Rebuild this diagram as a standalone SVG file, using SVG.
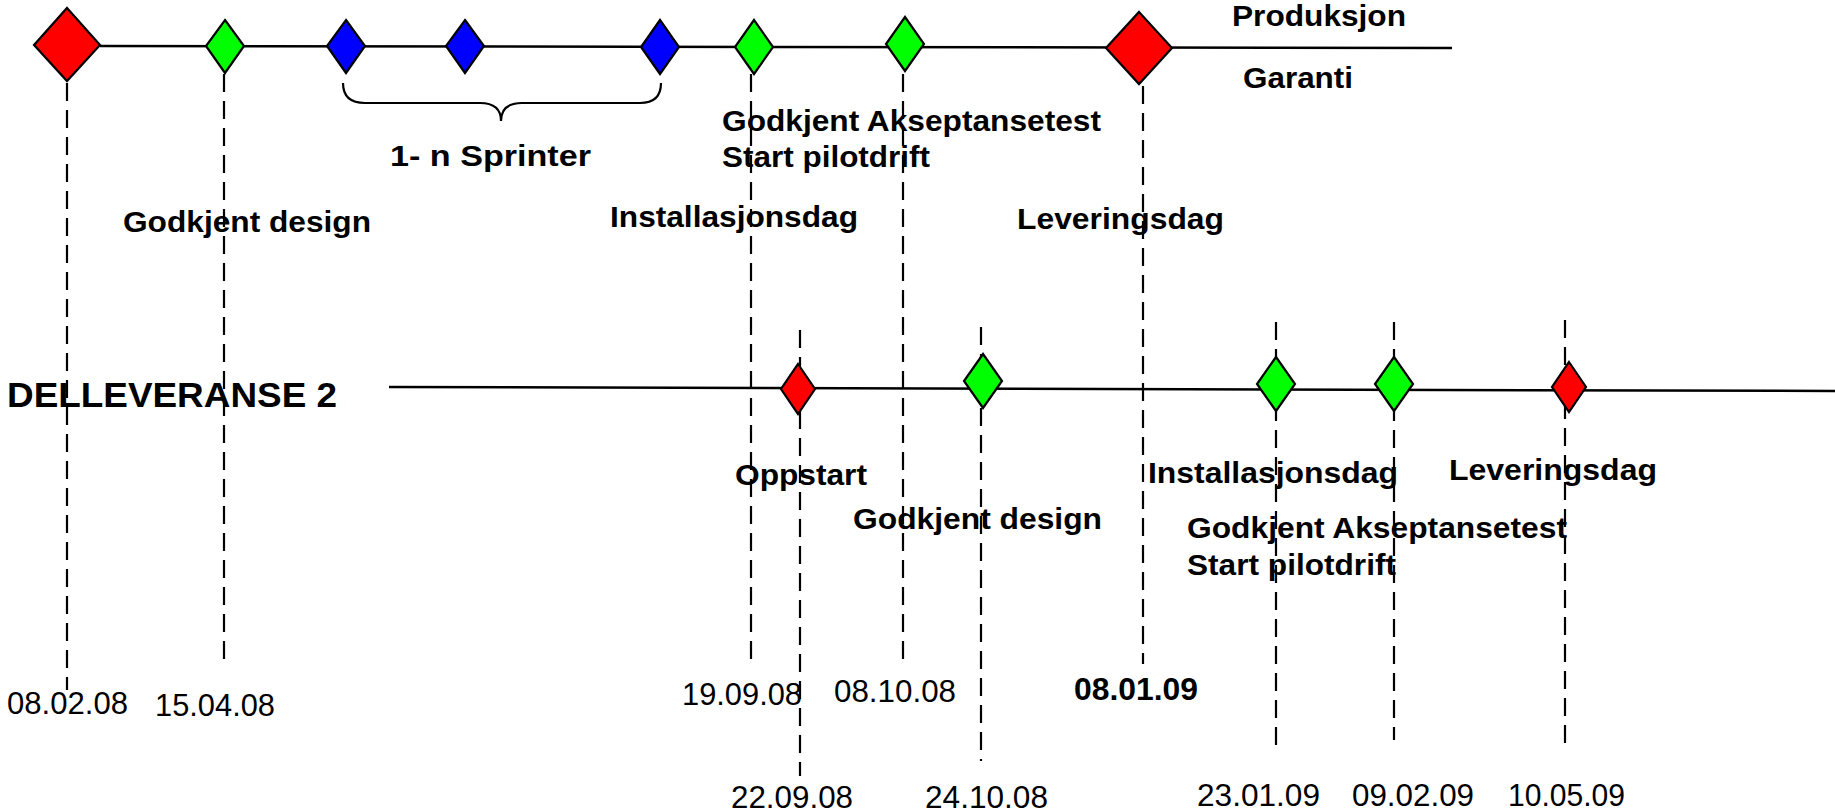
<svg xmlns="http://www.w3.org/2000/svg" width="1835" height="812" viewBox="0 0 1835 812">
<style>
.tl{stroke:#000;stroke-width:2.5;fill:none}
.dash{stroke:#000;stroke-width:2.2;stroke-dasharray:18 9;fill:none}
.brace{stroke:#000;stroke-width:2.2;fill:none}
.dm{stroke:#000;stroke-width:2.2}
.red{fill:#FF0000}.grn{fill:#00FF00}.blu{fill:#0000FF}
.lb{font-family:"Liberation Sans",Arial,sans-serif;font-weight:bold;font-size:29px;fill:#000}
.big{font-family:"Liberation Sans",Arial,sans-serif;font-weight:bold;font-size:35px;fill:#000}
.dt{font-family:"Liberation Sans",Arial,sans-serif;font-size:32px;fill:#000}
.dtb{font-family:"Liberation Sans",Arial,sans-serif;font-weight:bold;font-size:31px;fill:#000}
</style>
<rect width="1835" height="812" fill="#fff"/>
<g id="connectors">
<line class="tl" x1="100" y1="46" x2="1452" y2="48"/>
<line class="tl" x1="389" y1="387" x2="1835" y2="391"/>
<line class="dash" x1="67" y1="83" x2="67" y2="690"/>
<line class="dash" x1="224" y1="74" x2="224" y2="667"/>
<line class="dash" x1="751" y1="74" x2="751" y2="667"/>
<line class="dash" x1="903" y1="74" x2="903" y2="664"/>
<line class="dash" x1="1143" y1="86" x2="1143" y2="664"/>
<line class="dash" x1="800" y1="330" x2="800" y2="776"/>
<line class="dash" x1="981" y1="327" x2="981" y2="761"/>
<line class="dash" x1="1276" y1="322" x2="1276" y2="753"/>
<line class="dash" x1="1394" y1="322" x2="1394" y2="740"/>
<line class="dash" x1="1565" y1="320" x2="1565" y2="747"/>
<path class="brace" d="M343,83 Q343,103 365,103 L480,103 Q501,103 501,121 Q501,103 522,103 L640,103 Q661,103 661,83"/>
</g>
<g id="n-start"><polygon class="dm red" points="67,8 100,45 67,81 34,45"/></g>
<g id="n-design"><polygon class="dm grn" points="225,20 244,46 225,73 206,46"/></g>
<g id="n-sprint1"><polygon class="dm blu" points="346,20 365,46 346,73 327,46"/></g>
<g id="n-sprint2"><polygon class="dm blu" points="465,20 484,46 465,73 446,46"/></g>
<g id="n-sprint3"><polygon class="dm blu" points="660,20 679,47 660,74 641,47"/></g>
<g id="n-install"><polygon class="dm grn" points="754,20 773,47 754,74 735,47"/></g>
<g id="n-accept"><polygon class="dm grn" points="905,17 924,44 905,71 886,44"/></g>
<g id="n-deliver"><polygon class="dm red" points="1139,12 1172,48 1139,84 1106,48"/></g>
<g id="d2-start"><polygon class="dm red" points="798,364 815,389 798,414 781,389"/></g>
<g id="d2-design"><polygon class="dm grn" points="983,354 1002,381 983,408 964,381"/></g>
<g id="d2-install"><polygon class="dm grn" points="1276,357 1295,384 1276,411 1257,384"/></g>
<g id="d2-accept"><polygon class="dm grn" points="1394,357 1413,384 1394,411 1375,384"/></g>
<g id="d2-deliver"><polygon class="dm red" points="1569,362 1586,387 1569,412 1552,387"/></g>
<g id="labels">
<text class="lb" x="1232" y="26" textLength="174" lengthAdjust="spacingAndGlyphs">Produksjon</text>
<text class="lb" x="1243" y="88" textLength="110" lengthAdjust="spacingAndGlyphs">Garanti</text>
<text class="lb" x="390" y="166" textLength="201" lengthAdjust="spacingAndGlyphs">1- n Sprinter</text>
<text class="lb" x="123" y="232" textLength="248" lengthAdjust="spacingAndGlyphs">Godkjent design</text>
<text class="lb" x="722" y="131" textLength="379" lengthAdjust="spacingAndGlyphs">Godkjent Akseptansetest</text>
<text class="lb" x="722" y="167" textLength="208" lengthAdjust="spacingAndGlyphs">Start pilotdrift</text>
<text class="lb" x="610" y="227" textLength="248" lengthAdjust="spacingAndGlyphs">Installasjonsdag</text>
<text class="lb" x="1017" y="229" textLength="207" lengthAdjust="spacingAndGlyphs">Leveringsdag</text>
<text class="big" x="7" y="407" textLength="330" lengthAdjust="spacingAndGlyphs">DELLEVERANSE 2</text>
<text class="lb" x="735" y="485" textLength="132" lengthAdjust="spacingAndGlyphs">Oppstart</text>
<text class="lb" x="853" y="529" textLength="249" lengthAdjust="spacingAndGlyphs">Godkjent design</text>
<text class="lb" x="1148" y="483" textLength="250" lengthAdjust="spacingAndGlyphs">Installasjonsdag</text>
<text class="lb" x="1449" y="480" textLength="208" lengthAdjust="spacingAndGlyphs">Leveringsdag</text>
<text class="lb" x="1187" y="538" textLength="380" lengthAdjust="spacingAndGlyphs">Godkjent Akseptansetest</text>
<text class="lb" x="1187" y="575" textLength="209" lengthAdjust="spacingAndGlyphs">Start pilotdrift</text>
<text class="dt" x="7" y="714" textLength="121" lengthAdjust="spacingAndGlyphs">08.02.08</text>
<text class="dt" x="155" y="716" textLength="120" lengthAdjust="spacingAndGlyphs">15.04.08</text>
<text class="dt" x="682" y="705" textLength="120" lengthAdjust="spacingAndGlyphs">19.09.08</text>
<text class="dt" x="834" y="702" textLength="122" lengthAdjust="spacingAndGlyphs">08.10.08</text>
<text class="dtb" x="1074" y="700" textLength="124" lengthAdjust="spacingAndGlyphs">08.01.09</text>
<text class="dt" x="731" y="808" textLength="122" lengthAdjust="spacingAndGlyphs">22.09.08</text>
<text class="dt" x="925" y="808" textLength="123" lengthAdjust="spacingAndGlyphs">24.10.08</text>
<text class="dt" x="1197" y="806" textLength="123" lengthAdjust="spacingAndGlyphs">23.01.09</text>
<text class="dt" x="1352" y="806" textLength="122" lengthAdjust="spacingAndGlyphs">09.02.09</text>
<text class="dt" x="1508" y="806" textLength="117" lengthAdjust="spacingAndGlyphs">10.05.09</text>
</g>
</svg>
